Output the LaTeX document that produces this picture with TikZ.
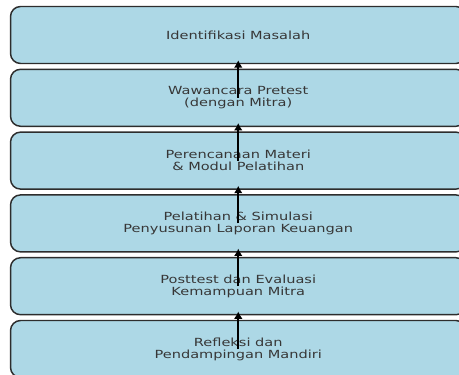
\documentclass[tikz,border=0pt]{standalone}
\usepackage{fontspec}
\newfontfamily\boxfont[FakeStretch=1.3]{DejaVu Sans}
\usetikzlibrary{arrows.meta,calc}
\definecolor{boxblue}{RGB}{173,216,230}
\definecolor{boxtext}{RGB}{55,55,55}
\tikzset{every picture/.style={line width=0.75pt}}
\tikzset{
  stepbox/.style={draw={rgb,255:red,45;green,45;blue,45}, line width=1.1pt, fill=boxblue,
    rounded corners=7.5pt, minimum width=341.6pt, minimum height=42.75pt, inner sep=0pt,
    align=center, text=boxtext, font=\boxfont\fontsize{8.4}{8.9}\selectfont},
  flowarrow/.style={-{Latex[length=5.5pt,width=6.5pt]}, line width=1.5pt, black}
}
\begin{document}
\begin{tikzpicture}[x=0.75pt,y=0.75pt,yscale=-1,xscale=1]
\useasboundingbox (0,0) rectangle (459,374);
\node[stepbox] (identifikasi) at (238.25,35) {Identifikasi Masalah};
\node[stepbox] (wawancara) at (238.25,97.8) {Wawancara Pretest\\(dengan Mitra)};
\node[stepbox] (perencanaan) at (238.25,160.6) {Perencanaan Materi\\\& Modul Pelatihan};
\node[stepbox] (pelatihan) at (238.25,223.4) {Pelatihan \& Simulasi\\Penyusunan Laporan Keuangan};
\node[stepbox] (posttest) at (238.25,286.2) {Posttest dan Evaluasi\\Kemampuan Mitra};
\node[stepbox] (refleksi) at (238.25,349) {Refleksi dan\\Pendampingan Mandiri};
\draw[flowarrow] (wawancara.center) -- ($(identifikasi.south)+(0,-4)$);
\draw[flowarrow] (perencanaan.center) -- ($(wawancara.south)+(0,-4)$);
\draw[flowarrow] (pelatihan.center) -- ($(perencanaan.south)+(0,-4)$);
\draw[flowarrow] (posttest.center) -- ($(pelatihan.south)+(0,-4)$);
\draw[flowarrow] (refleksi.center) -- ($(posttest.south)+(0,-4)$);
\end{tikzpicture}
\end{document}
